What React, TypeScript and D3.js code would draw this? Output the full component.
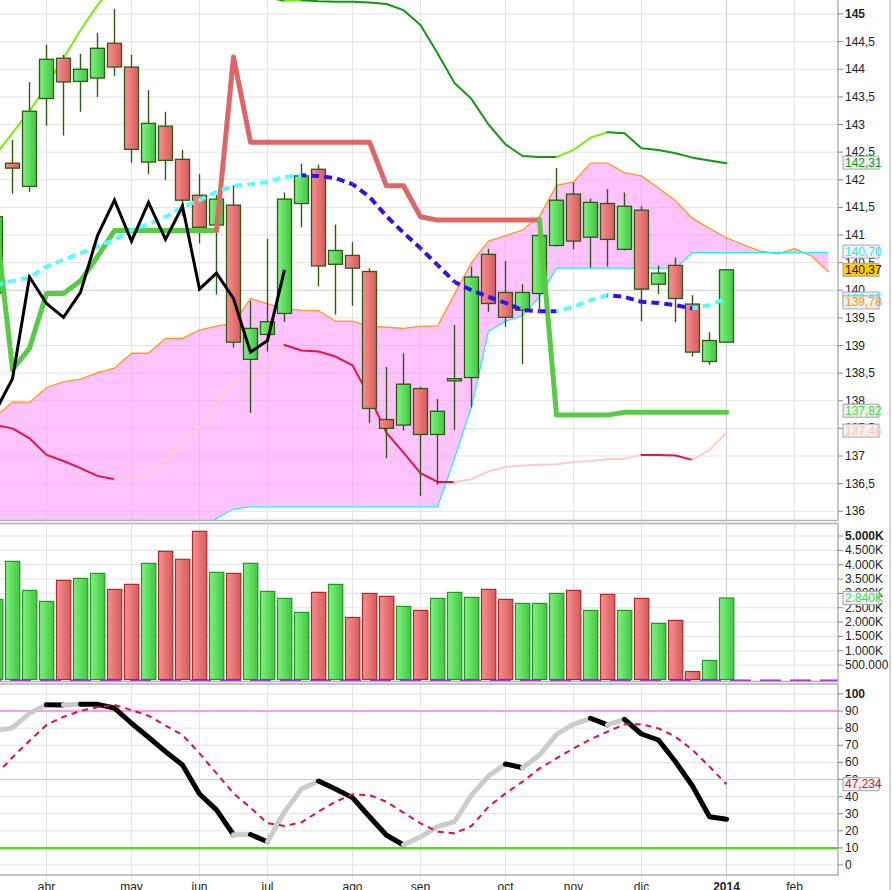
import * as d3 from "d3";

// weekly candles, index 0 is the partly hidden one at the left edge
const OPEN = [139.95, 142.3, 141.88, 143.47, 144.2, 143.78, 143.84, 144.47, 144.04, 142.32, 142.97, 142.37, 141.72, 141.18, 141.54, 138.75, 139.2, 139.58, 141.57, 142.19, 140.47, 140.63, 140.34, 137.66, 137.56, 138.22, 137.39, 138.36, 138.42, 140.65, 139.96, 139.64, 139.94, 140.81, 141.74, 140.96, 141.57, 140.74, 141.45, 140.11, 140.45, 139.75, 138.71, 139.06];
const HIGH = [141.45, 142.72, 143.77, 144.44, 144.26, 144.28, 144.66, 145.09, 144.26, 143.62, 143.23, 142.54, 142.1, 141.72, 141.9, 139.81, 140.93, 141.77, 142.29, 142.27, 141.19, 140.87, 140.4, 138.61, 138.86, 138.25, 138.03, 139.37, 140.43, 140.75, 140.53, 140.11, 141.05, 142.21, 141.95, 141.66, 141.83, 141.77, 141.52, 140.45, 140.59, 139.91, 139.24, 140.37];
const LOW = [139.8, 141.75, 141.78, 142.98, 142.8, 143.23, 143.5, 143.88, 142.31, 142.1, 141.99, 141.35, 140.85, 139.92, 138.96, 137.78, 138.89, 139.43, 141.14, 140.07, 139.56, 139.72, 137.6, 136.96, 137.46, 136.28, 136.48, 137.47, 137.88, 139.61, 139.34, 138.66, 139.64, 140.79, 140.74, 140.41, 140.43, 140.72, 139.44, 139.93, 139.42, 138.8, 138.65, 139.06];
const CLOSE = [141.33, 142.21, 143.24, 144.18, 143.77, 144.0, 144.38, 144.04, 142.55, 143.02, 142.35, 141.63, 141.14, 141.65, 139.06, 139.31, 139.43, 141.65, 142.07, 140.44, 140.72, 140.4, 137.86, 137.5, 138.3, 137.39, 137.81, 138.4, 140.24, 139.76, 139.51, 139.96, 140.99, 141.63, 140.89, 141.59, 140.92, 141.52, 140.02, 140.31, 139.85, 138.88, 139.09, 140.37];
// volume in thousands
const VOLUME = [2791, 4117, 3105, 2722, 3454, 3524, 3698, 3140, 3315, 4047, 4466, 4187, 5164, 3733, 3698, 4047, 3070, 2826, 2338, 3036, 3315, 2163, 3000, 2896, 2547, 2408, 2826, 3036, 2861, 3140, 2791, 2652, 2652, 3000, 3105, 2408, 2966, 2408, 2826, 1954, 2059, 279, 663, 2840];

// cloud spans run 6 weeks past the last candle
const SPAN_A = [137.71, 137.98, 137.97, 138.24, 138.34, 138.39, 138.51, 138.59, 138.86, 138.86, 139.13, 139.13, 139.28, 139.35, 139.4, 139.85, 139.76, 139.66, 139.64, 139.63, 139.44, 139.44, 139.35, 139.33, 139.31, 139.35, 139.35, 139.93, 140.5, 140.89, 140.99, 141.09, 141.34, 141.9, 141.96, 142.3, 142.3, 142.13, 142.07, 141.85, 141.62, 141.3, 141.12, 140.95, 140.82, 140.71, 140.66, 140.75, 140.62, 140.33];
const SPAN_B = [135.5, 135.5, 135.5, 135.5, 135.5, 135.5, 135.5, 135.5, 135.5, 135.5, 135.5, 135.5, 135.6, 135.87, 136.04, 136.08, 136.08, 136.08, 136.08, 136.08, 136.08, 136.08, 136.08, 136.08, 136.08, 136.08, 136.08, 136.96, 137.89, 139.26, 139.44, 139.54, 139.88, 140.4, 140.4, 140.4, 140.4, 140.4, 140.4, 140.4, 140.4, 140.68, 140.68, 140.68, 140.68, 140.68, 140.68, 140.68, 140.68, 140.68];
const TENKAN = [140.09, 140.17, 140.23, 140.43, 140.55, 140.67, 140.8, 140.91, 141.09, 141.2, 141.33, 141.51, 141.63, 141.78, 141.89, 141.92, 141.96, 142.05, 142.08, 142.07, 142.03, 141.92, 141.69, 141.34, 141.04, 140.76, 140.46, 140.15, 140.0, 139.88, 139.77, 139.64, 139.62, 139.62, 139.7, 139.82, 139.91, 139.88, 139.79, 139.77, 139.73, 139.67, 139.73, 139.85];
const STOP = [141.3, 138.56, 138.95, 139.94, 139.94, 140.17, 140.61, 141.08, 141.08, 141.08, 141.08, 141.08, 141.08, 141.08, 144.22, 142.68, 142.68, 142.68, 142.68, 142.68, 142.68, 142.68, 142.68, 141.89, 141.89, 141.33, 141.27, 141.27, 141.27, 141.27, 141.27, 141.27, 141.27, 137.74, 137.74, 137.74, 137.74, 137.79, 137.79, 137.79, 137.79, 137.79, 137.79, 137.79];
const UPPER = [142.45, 142.85, 143.24, 143.7, 144.2, 144.71, 145.16, 145.55, 145.85, 146.05, 146.15, 146.15, 146.05, 145.85, 145.65, 145.45, 145.3, 145.24, 145.25, 145.23, 145.22, 145.22, 145.21, 145.18, 145.07, 144.8, 144.29, 143.75, 143.46, 143.0, 142.64, 142.43, 142.41, 142.41, 142.54, 142.76, 142.86, 142.84, 142.57, 142.54, 142.48, 142.4, 142.35, 142.3];
const LOWER = [137.56, 137.5, 137.32, 137.02, 136.91, 136.78, 136.64, 136.58, 136.6, 136.64, 136.92, 137.29, 137.5, 137.95, 138.32, 138.41, 138.59, 139.01, 138.91, 138.89, 138.8, 138.64, 138.07, 137.42, 137.06, 136.69, 136.53, 136.53, 136.58, 136.72, 136.8, 136.83, 136.84, 136.85, 136.89, 136.91, 136.94, 136.95, 137.02, 137.02, 137.01, 136.93, 137.11, 137.42];
const CHIKOU_SHIFT = 26;

const STOCH_K = [78.5, 80.3, 88.7, 93.7, 93.6, 94.0, 93.95, 91.8, 82.9, 74.7, 66.3, 58.5, 41.5, 32.2, 17.7, 17.8, 13.6, 31.2, 44.4, 49.1, 44.4, 39.4, 28.2, 17.4, 11.7, 16.5, 22.4, 25.3, 40.9, 52.0, 59.1, 56.9, 64.3, 76.4, 82.3, 85.8, 81.9, 85.2, 76.6, 73.1, 60.4, 46.2, 28.2, 26.7];
const STOCH_D = [52.6, 63.0, 72.7, 81.9, 86.7, 90.1, 92.2, 93.6, 90.6, 87.3, 81.5, 76.0, 65.3, 53.6, 41.9, 33.5, 24.4, 22.8, 25.0, 31.2, 37.0, 41.3, 40.9, 37.0, 30.6, 24.4, 19.5, 18.5, 22.8, 34.1, 41.9, 48.7, 56.5, 62.4, 68.2, 73.5, 78.0, 82.3, 82.3, 79.9, 75.0, 67.3, 57.5, 47.234];

const MONTH_LABELS = ["abr", "may", "jun", "jul", "ago", "sep", "oct", "nov", "dic", "2014", "feb"];
const MONTH_INDEX = [3, 8, 12, 16, 21, 25, 30, 34, 38, 43, 47];

const PRICE_TICKS = d3.range(136, 145.01, 0.5);
const VOL_TICKS = d3.range(500, 5001, 500);
const OSC_TICKS = d3.range(0, 101, 10);

const LAST_LABELS = [
  { value: 142.31, text: "142,31", color: "#119911", bg: "#f0f0f0" },
  { value: 140.7, text: "140,70", color: "#22eeff", bg: "#f0f0f0" },
  { value: 140.37, text: "140,37", color: "#111", bg: "#ffcc00" },
  { value: 139.85, text: "139,85", color: "#22eeff", bg: "#f0f0f0" },
  { value: 139.78, text: "139,78", color: "#ff9900", bg: "#f0f0f0" },
  { value: 137.82, text: "137,82", color: "#44dd44", bg: "#f0f0f0" },
  { value: 137.46, text: "137,46", color: "#ffc4c4", bg: "#f0f0f0" },
];

const W = 893;
const H = 890;
const RIGHT = 838;
const PRICE_BOTTOM = 520.5;
const VOL_TOP = 523.5;
const VOL_BOTTOM = 681.5;
const OSC_TOP = 684;
const OSC_BOTTOM = 875;
const FONT = "'Liberation Sans', Arial, sans-serif";

const x = d3.scaleLinear().domain([0, 1]).range([-4.5, 12.5]);
const yP = d3.scaleLinear().domain([136, 145]).range([511.25, 14]);
const yV = d3.scaleLinear().domain([0, 5000]).range([679.5, 536]);
const yO = d3.scaleLinear().domain([0, 100]).range([865, 694]);

type Run = { color: string; idx: number[] };
// group consecutive segments of one colour into a single polyline
function colorRuns(n: number, colorOf: (i: number) => string): Run[] {
  const out: Run[] = [];
  for (let i = 1; i < n; i++) {
    const c = colorOf(i);
    const last = out[out.length - 1];
    if (last && last.color === c) last.idx.push(i);
    else out.push({ color: c, idx: [i - 1, i] });
  }
  return out;
}

function RunLines({ vals, y, colorOf, width }: { vals: number[]; y: (v: number) => number; colorOf: (i: number) => string; width: number }) {
  const line = d3.line<number>().x((i) => x(i)).y((i) => y(vals[i]));
  return (
    <g>
      {colorRuns(vals.length, colorOf).map((r, k) => (
        <path key={k} d={line(r.idx) || ""} fill="none" stroke={r.color} strokeWidth={width} strokeLinejoin="round" strokeLinecap="round" />
      ))}
    </g>
  );
}

// dashed line whose colour changes per segment, keeping the dash phase
function DashedColored({ vals, y, colorOf, width, dash }: { vals: number[]; y: (v: number) => number; colorOf: (i: number) => string; width: number; dash: string }) {
  let acc = 0;
  const segs = [];
  for (let i = 1; i < vals.length; i++) {
    const x1 = x(i - 1), y1 = y(vals[i - 1]), x2 = x(i), y2 = y(vals[i]);
    segs.push(
      <line key={i} x1={x1} y1={y1} x2={x2} y2={y2} stroke={colorOf(i)} strokeWidth={width} strokeDasharray={dash} strokeDashoffset={acc} />
    );
    acc += Math.hypot(x2 - x1, y2 - y1);
  }
  return <g>{segs}</g>;
}

export default function App() {
  const idx = d3.range(CLOSE.length);
  const cloudIdx = d3.range(SPAN_A.length);
  const cloud = d3
    .area<number>()
    .x((i) => x(i))
    .y0((i) => yP(SPAN_B[i]))
    .y1((i) => yP(SPAN_A[i]));
  const lineP = (vals: number[]) => d3.line<number>().x((i) => x(i)).y((i) => yP(vals[i]));
  const chikouIdx = idx.filter((i) => i + CHIKOU_SHIFT < CLOSE.length);
  const chikou = d3.line<number>().x((i) => x(i)).y((i) => yP(CLOSE[i + CHIKOU_SHIFT]));
  const dLine = d3.line<number>().x((i) => x(i)).y((i) => yO(STOCH_D[i]));
  const monthX = MONTH_INDEX.map((i) => x(i));
  const grid = "#e3e3e3";
  const frame = "#b4b4b4";

  const label = (yc: number, text: string, color: string, bg: string, k: string | number) => (
    <g key={k}>
      <rect x={843} y={yc - 6.5} width={36} height={13} fill={bg} stroke="#a8a8a8" strokeWidth={1} />
      <text x={845} y={yc} dominantBaseline="central" fontSize={12} fill={color}>
        {text}
      </text>
    </g>
  );

  return (
    <div style={{ position: "absolute", left: 0, top: 0 }}>
      <svg width={W} height={H} style={{ display: "block", fontFamily: FONT }}>
        <defs>
          <linearGradient id="gUp" x1="0" x2="1" y1="0" y2="0">
            <stop offset="0" stopColor="#7ef27e" />
            <stop offset="1" stopColor="#42c642" />
          </linearGradient>
          <linearGradient id="gDn" x1="0" x2="1" y1="0" y2="0">
            <stop offset="0" stopColor="#f98e8e" />
            <stop offset="1" stopColor="#d65c5c" />
          </linearGradient>
          <clipPath id="cpPrice">
            <rect x={0} y={0} width={RIGHT} height={PRICE_BOTTOM} />
          </clipPath>
          <clipPath id="cpVol">
            <rect x={0} y={VOL_TOP} width={RIGHT} height={VOL_BOTTOM - VOL_TOP} />
          </clipPath>
          <clipPath id="cpOsc">
            <rect x={0} y={OSC_TOP} width={RIGHT} height={OSC_BOTTOM - OSC_TOP} />
          </clipPath>
        </defs>
        <rect width={W} height={H} fill="#fff" />

        {/* grids */}
        {PRICE_TICKS.map((t) => (
          <line key={"pg" + t} x1={0} x2={RIGHT} y1={yP(t)} y2={yP(t)} stroke={t === 140 ? "#cfcfcf" : grid} />
        ))}
        {VOL_TICKS.map((t) => (
          <line key={"vg" + t} x1={0} x2={RIGHT} y1={yV(t)} y2={yV(t)} stroke={grid} />
        ))}
        {OSC_TICKS.map((t) => (
          <line key={"og" + t} x1={0} x2={RIGHT} y1={yO(t)} y2={yO(t)} stroke={t === 50 ? "#cfcfcf" : grid} />
        ))}
        {monthX.map((mx, k) => (
          <g key={"mg" + k} stroke={MONTH_LABELS[k] === "2014" ? "#cfcfcf" : grid}>
            <line x1={mx} x2={mx} y1={0} y2={PRICE_BOTTOM} />
            <line x1={mx} x2={mx} y1={VOL_TOP} y2={VOL_BOTTOM} />
            <line x1={mx} x2={mx} y1={OSC_TOP} y2={OSC_BOTTOM + 5} />
          </g>
        ))}

        {/* price panel */}
        <g clipPath="url(#cpPrice)">
          <path d={cloud(cloudIdx) || ""} fill="#ff88ff" fillOpacity={0.5} />
          <path d={lineP(SPAN_A)(cloudIdx) || ""} fill="none" stroke="#ff9a1a" strokeWidth={1.3} />
          <path d={lineP(SPAN_B)(cloudIdx) || ""} fill="none" stroke="#22eeff" strokeWidth={1.3} />
          <RunLines vals={UPPER} y={yP} width={2} colorOf={(i) => (UPPER[i] > UPPER[i - 1] ? "#77ee11" : "#119911")} />
          <RunLines vals={LOWER} y={yP} width={2} colorOf={(i) => (LOWER[i] > LOWER[i - 1] ? "#ffcccc" : "#ee1144")} />
          {idx.map((i) => {
            const up = CLOSE[i] >= OPEN[i];
            const top = yP(Math.max(OPEN[i], CLOSE[i]));
            const bot = yP(Math.min(OPEN[i], CLOSE[i]));
            return (
              <g key={"c" + i}>
                <line x1={x(i)} x2={x(i)} y1={yP(HIGH[i])} y2={yP(LOW[i])} stroke="#2d5a14" strokeWidth={1.4} />
                <rect x={x(i) - 7} y={top} width={14} height={Math.max(bot - top, 1.5)} fill={up ? "url(#gUp)" : "url(#gDn)"} stroke="#2d5a14" strokeWidth={1.3} />
              </g>
            );
          })}
          <RunLines vals={STOP} y={yP} width={5} colorOf={(i) => (STOP[i] > CLOSE[i] ? "#df6666" : "#55cc44")} />
          <DashedColored vals={TENKAN} y={yP} width={4} dash="8 5" colorOf={(i) => (TENKAN[i] > TENKAN[i - 1] ? "#55ffff" : "#3311ee")} />
          <path d={chikou(chikouIdx) || ""} fill="none" stroke="#000" strokeWidth={3} strokeLinejoin="miter" />
        </g>

        {/* volume panel */}
        <g clipPath="url(#cpVol)">
          {idx.map((i) => {
            const up = i === 0 || CLOSE[i] >= CLOSE[i - 1];
            return (
              <rect
                key={"v" + i}
                x={x(i) - 7}
                y={yV(VOLUME[i])}
                width={14.3}
                height={yV(0) - yV(VOLUME[i])}
                fill={up ? "url(#gUp)" : "url(#gDn)"}
                stroke={up ? "#1f9a1f" : "#aa2a2a"}
                strokeWidth={1.2}
              />
            );
          })}
          <line x1={0} x2={RIGHT} y1={yV(0) + 0.8} y2={yV(0) + 0.8} stroke="#9911ff" strokeWidth={1.6} strokeDasharray="21 9" strokeDashoffset={20} />
        </g>

        {/* oscillator panel */}
        <g clipPath="url(#cpOsc)">
          <line x1={0} x2={RIGHT} y1={yO(90)} y2={yO(90)} stroke="#ff99ee" strokeWidth={2} />
          <line x1={0} x2={RIGHT} y1={yO(10)} y2={yO(10)} stroke="#33ee00" strokeWidth={2} />
          <RunLines vals={STOCH_K} y={yO} width={5} colorOf={(i) => (STOCH_K[i] > STOCH_K[i - 1] ? "#cccccc" : "#000")} />
          <path d={dLine(idx) || ""} fill="none" stroke="#dd1144" strokeWidth={2} strokeDasharray="6 5" />
        </g>

        {/* frames */}
        <g fill="none" stroke={frame} strokeWidth={1.5}>
          <line x1={RIGHT} x2={RIGHT} y1={0} y2={PRICE_BOTTOM} />
          <line x1={0} x2={RIGHT} y1={PRICE_BOTTOM} y2={PRICE_BOTTOM} />
          <rect x={-2} y={VOL_TOP} width={RIGHT + 2} height={VOL_BOTTOM - VOL_TOP} />
          <rect x={-2} y={OSC_TOP} width={RIGHT + 2} height={OSC_BOTTOM - OSC_TOP} />
          <line x1={890} x2={890} y1={0} y2={H} stroke="#c4c4c4" />
        </g>

        {/* right axes */}
        <g fontSize={12} fill="#222">
          {PRICE_TICKS.map((t) => (
            <g key={"pt" + t}>
              <line x1={RIGHT} x2={RIGHT + 5} y1={yP(t)} y2={yP(t)} stroke="#888" />
              <text x={845} y={yP(t)} dominantBaseline="central" fontWeight={t === 145 ? "bold" : "normal"}>
                {String(t).replace(".", ",")}
              </text>
            </g>
          ))}
          {VOL_TICKS.map((t) => (
            <g key={"vt" + t}>
              <line x1={RIGHT} x2={RIGHT + 5} y1={yV(t)} y2={yV(t)} stroke="#888" />
              <text x={845} y={yV(t)} dominantBaseline="central" fontWeight={t === 5000 ? "bold" : "normal"}>
                {t < 1000 ? "500.000" : d3.format(",")(t).replace(",", ".") + "K"}
              </text>
            </g>
          ))}
          {OSC_TICKS.map((t) => (
            <g key={"ot" + t}>
              <line x1={RIGHT} x2={RIGHT + 5} y1={yO(t)} y2={yO(t)} stroke="#888" />
              <text x={845} y={yO(t)} dominantBaseline="central" fontWeight={t === 100 ? "bold" : "normal"}>
                {t}
              </text>
            </g>
          ))}
        </g>

        {/* last value labels */}
        {LAST_LABELS.map((l, k) => label(yP(l.value), l.text, l.color, l.bg, "ll" + k))}
        {label(yV(VOLUME[VOLUME.length - 1]), "2.840K", "#44dd44", "#f0f0f0", "lv")}
        {label(yO(STOCH_D[STOCH_D.length - 1]), "47,234", "#dd1144", "#f0f0f0", "lo")}

        {/* month labels */}
        {MONTH_LABELS.map((m, k) => (
          <text key={"ml" + k} x={monthX[k]} y={891} textAnchor="middle" fontSize={12} fill="#222" fontWeight={m === "2014" ? "bold" : "normal"}>
            {m}
          </text>
        ))}
      </svg>
    </div>
  );
}
